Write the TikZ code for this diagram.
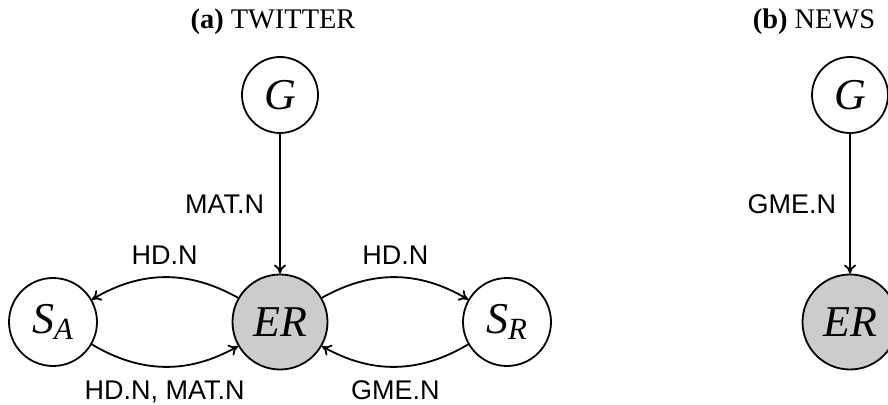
\documentclass[tikz,border=0pt]{standalone}
\usepackage{fontspec}
\setmainfont{Liberation Serif}
\newfontfamily\labelfont{Liberation Sans}
\usetikzlibrary{arrows.meta}

\begin{document}
\begin{tikzpicture}[x=0.5pt,y=0.5pt,line width=0.9pt,>={To[length=4.5pt,width=6pt]}]
\tikzstyle{every node}+=[inner sep=0pt]
\tikzstyle{state}=[draw,circle,minimum size=38pt,font=\fontsize{22}{26}\selectfont\itshape]
\tikzstyle{side}=[state,minimum size=44pt]
\tikzstyle{target}=[state,minimum size=47.5pt,fill=black!20]
\tikzstyle{ev}=[font=\labelfont\fontsize{13.5}{16}\selectfont]
\tikzstyle{hdr}=[font=\fontsize{14.2}{17}\selectfont]
\useasboundingbox (0,0) rectangle (888,-405);
\node[hdr] (twt) at (273,-22) {\textbf{(a)} TWITTER};
\node[hdr] (nws) at (814,-22) {\textbf{(b)} NEWS};
\node[state] (g1) at (280,-95) {G};
\node[target] (er1) at (280,-322) {ER};
\node[side] (sa) at (53,-322) {S\textsubscript{A}};
\node[side] (sr) at (507,-322) {S\textsubscript{R}};
\node[state] (g2) at (850,-95) {G};
\node[target] (er2) at (850,-322) {ER};
\draw[->] (g1) -- node[ev,midway,left=7.5pt] {MAT.N} (er1);
\draw[->] (er1) to[bend right=30] node[ev,midway,above=6pt] {HD.N} (sa);
\draw[->] (sa) to[bend right=30] node[ev,midway,below=6.5pt] {HD.N, MAT.N} (er1);
\draw[->] (er1) to[bend left=30] node[ev,midway,above=6pt] {HD.N} (sr);
\draw[->] (sr) to[bend left=30] node[ev,midway,below=6.5pt] {GME.N} (er1);
\draw[->] (g2) -- node[ev,midway,left=6.5pt] {GME.N} (er2);
\end{tikzpicture}
\end{document}
